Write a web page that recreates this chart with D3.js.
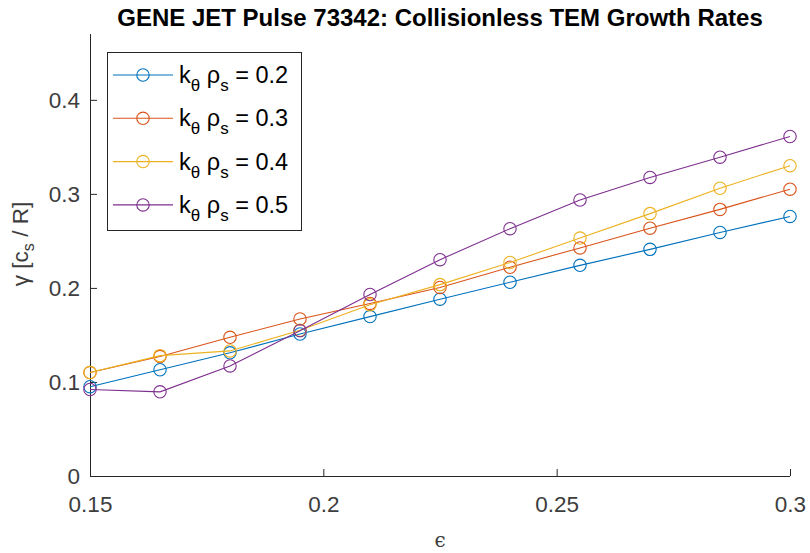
<!DOCTYPE html>
<html>
<head>
<meta charset="utf-8">
<script src="https://cdn.jsdelivr.net/npm/d3@7"></script>
<style>
  html, body { margin: 0; padding: 0; background: #fff; }
  svg { display: block; font-family: "Liberation Sans", Arial, Helvetica, sans-serif; }
</style>
</head>
<body>
<svg id="chart" width="810" height="553"></svg>
<script>
// Aspect ratio epsilon sampled along the scan
const epsilon = [0.15, 0.165, 0.18, 0.195, 0.21, 0.225, 0.24, 0.255, 0.27, 0.285, 0.3];

// Growth rates gamma [c_s/R] for each binormal wavenumber k_theta rho_s
const kthetaRhos = ["0.2", "0.3", "0.4", "0.5"];
const gamma02 = [0.095, 0.113, 0.131, 0.151, 0.1695, 0.188, 0.206, 0.224, 0.241, 0.259, 0.276];
const gamma03 = [0.110, 0.127, 0.1475, 0.167, 0.1835, 0.2005, 0.222, 0.2425, 0.2635, 0.2835, 0.305];
const gamma04 = [0.110, 0.128, 0.133, 0.155, 0.182, 0.2035, 0.227, 0.253, 0.279, 0.306, 0.330];
const gamma05 = [0.092, 0.0895, 0.117, 0.1545, 0.193, 0.230, 0.263, 0.2935, 0.3175, 0.339, 0.361];

const xTicks = [0.15, 0.2, 0.25, 0.3];
const yTicks = [0, 0.1, 0.2, 0.3, 0.4];
const colors = ["#0072BD", "#D95319", "#EDB120", "#7E2F8E"];

const seriesValues = [gamma02, gamma03, gamma04, gamma05];
const series = kthetaRhos.map((k, i) => ({
  k, color: colors[i],
  points: epsilon.map((e, j) => ({ x: e, y: seriesValues[i][j] }))
}));

const svg = d3.select("#chart");
const plotLeft = 90, plotRight = 790, plotTop = 34, plotBottom = 476;
const axisColor = "#262626";
const labelColor = "#3d3d3d";
const tickFont = 22.5;

const x = d3.scaleLinear().domain([0.15, 0.3]).range([plotLeft, plotRight]);
const y = d3.scaleLinear().domain([0, 0.47]).range([plotBottom, plotTop]);

// Axes with inward ticks, left and bottom only
const xAxis = d3.axisBottom(x).tickValues(xTicks).tickFormat(d3.format("")).tickSize(-7).tickPadding(20);
const yAxis = d3.axisLeft(y).tickValues(yTicks).tickFormat(d3.format("")).tickSize(-7).tickPadding(10);

const gx = svg.append("g").attr("transform", `translate(0,${plotBottom})`).call(xAxis);
const gy = svg.append("g").attr("transform", `translate(${plotLeft},0)`).call(yAxis);
[gx, gy].forEach(g => {
  g.select(".domain").attr("stroke", axisColor).attr("stroke-width", 1);
  g.selectAll(".tick line").attr("stroke", axisColor).attr("stroke-width", 1);
  g.selectAll(".tick text").attr("fill", labelColor)
    .attr("font-size", tickFont).attr("font-family", "Liberation Sans, Arial, sans-serif");
});
gx.select(".domain").attr("d", `M${plotLeft},0.5H${plotRight}`);
gy.select(".domain").attr("d", `M0.5,${plotBottom}V${plotTop}`);
gx.selectAll(".tick text").attr("dy", "0.71em");

// Lines and circle markers
const line = d3.line().x(d => x(d.x)).y(d => y(d.y));
const gs = svg.append("g").selectAll("g").data(series).join("g");
gs.append("path")
  .attr("d", d => line(d.points))
  .attr("fill", "none")
  .attr("stroke", d => d.color)
  .attr("stroke-width", 1.1);
gs.selectAll("circle").data(d => d.points.map(p => ({ ...p, color: d.color })))
  .join("circle")
  .attr("cx", d => x(d.x)).attr("cy", d => y(d.y)).attr("r", 6.2)
  .attr("fill", "none").attr("stroke", d => d.color).attr("stroke-width", 1.1);

// Title
svg.append("text")
  .attr("x", (plotLeft + plotRight) / 2).attr("y", 26)
  .attr("text-anchor", "middle")
  .attr("font-weight", "bold").attr("font-size", 24)
  .attr("fill", "#000")
  .text("GENE JET Pulse 73342: Collisionless TEM Growth Rates");

// Axis labels
svg.append("text")
  .attr("x", (plotLeft + plotRight) / 2).attr("y", 547)
  .attr("text-anchor", "middle").attr("font-size", 20)
  .attr("font-family", "DejaVu Serif, serif")
  .attr("fill", labelColor)
  .text("ϵ");

const yl = svg.append("text")
  .attr("transform", `translate(28,244) rotate(-90)`)
  .attr("text-anchor", "middle").attr("font-size", 22.5)
  .attr("fill", labelColor);
yl.append("tspan").text("γ [c");
yl.append("tspan").attr("font-size", 16).attr("dy", 6).text("s");
yl.append("tspan").attr("dy", -6).text(" / R]");

// Legend
const lg = svg.append("g");
lg.append("rect")
  .attr("x", 107.5).attr("y", 52.5).attr("width", 194).attr("height", 178)
  .attr("fill", "#fff").attr("stroke", axisColor).attr("stroke-width", 1);
series.forEach((s, i) => {
  const cy = 75 + i * 43.3;
  lg.append("line").attr("x1", 113).attr("x2", 173).attr("y1", cy).attr("y2", cy)
    .attr("stroke", s.color).attr("stroke-width", 1.1);
  lg.append("circle").attr("cx", 143).attr("cy", cy).attr("r", 6.2)
    .attr("fill", "none").attr("stroke", s.color).attr("stroke-width", 1.1);
  const t = lg.append("text").attr("x", 179).attr("y", cy + 8)
    .attr("font-size", 23.5).attr("fill", "#000");
  t.append("tspan").text("k");
  t.append("tspan").attr("font-size", 17).attr("dy", 8).text("θ");
  t.append("tspan").attr("dy", -8).text(" ρ");
  t.append("tspan").attr("font-size", 17).attr("dy", 8).text("s");
  t.append("tspan").attr("dy", -8).text(" = " + s.k);
});
</script>
</body>
</html>
